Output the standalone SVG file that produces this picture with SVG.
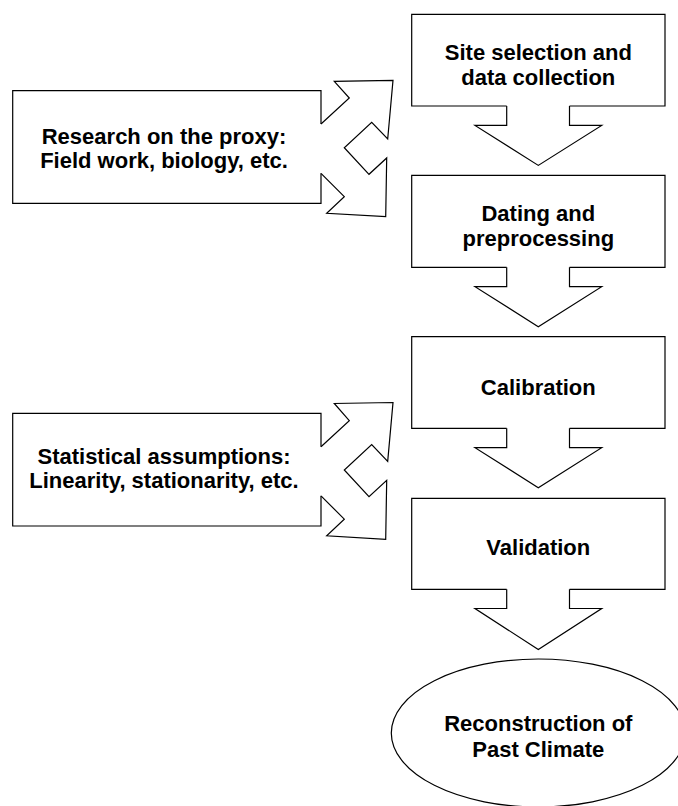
<svg xmlns="http://www.w3.org/2000/svg" width="678" height="806" viewBox="0 0 678 806">
  <style>
    .shape { fill: #ffffff; stroke: #000000; stroke-width: 1.2; stroke-linejoin: miter; }
    .conn { fill: #ffffff; stroke: #000000; stroke-width: 1.2; stroke-linejoin: miter; }
    .label { font-family: "Liberation Sans", Arial, Helvetica, sans-serif; font-weight: bold; font-size: 22px; fill: #000000; text-anchor: middle; }
  </style>
  <rect x="0" y="0" width="678" height="806" fill="#ffffff"/>

  <g id="site-selection">
    <path class="shape" d="M506.7,106 L411.7,106 L411.7,14.3 L665,14.3 L665,106 L569.5,106"/>
    <text class="label" x="538.3" y="59.5">Site selection and</text>
    <text class="label" x="538.3" y="84.5">data collection</text>
  </g>

  <g id="dating">
    <path class="shape" d="M506.7,267.3 L411.7,267.3 L411.7,175.3 L665,175.3 L665,267.3 L569.5,267.3"/>
    <text class="label" x="538.3" y="220.5">Dating and</text>
    <text class="label" x="538.3" y="245.5">preprocessing</text>
  </g>

  <g id="calibration">
    <path class="shape" d="M506.7,428.3 L411.7,428.3 L411.7,336.7 L665,336.7 L665,428.3 L569.5,428.3"/>
    <text class="label" x="538.3" y="394.5">Calibration</text>
  </g>

  <g id="validation">
    <path class="shape" d="M506.7,589.3 L411.7,589.3 L411.7,498.3 L665,498.3 L665,589.3 L569.5,589.3"/>
    <text class="label" x="538.3" y="555">Validation</text>
  </g>

  <g id="reconstruction">
    <ellipse class="shape" cx="538.3" cy="733" rx="147" ry="74"/>
    <text class="label" x="538.3" y="731">Reconstruction of</text>
    <text class="label" x="538.3" y="757">Past Climate</text>
  </g>

  <g id="research-proxy">
    <path class="shape" d="M321,124 L321,90.7 L12.7,90.7 L12.7,203.3 L321,203.3 L321,173.3"/>
    <text class="label" x="164" y="143.6">Research on the proxy:</text>
    <text class="label" x="164" y="168.3">Field work, biology, etc.</text>
  </g>

  <g id="statistical-assumptions">
    <path class="shape" d="M321,446.7 L321,413.3 L12.7,413.3 L12.7,526 L321,526 L321,495.8"/>
    <text class="label" x="164" y="463.6">Statistical assumptions:</text>
    <text class="label" x="164" y="488.3">Linearity, stationarity, etc.</text>
  </g>

  <g id="connectors">
    <path class="conn" d="M506.7,106 L506.7,125.4 L475,125.4 L538.3,165.4 L601.7,125.4 L569.5,125.4 L569.5,106"/>
    <path class="conn" d="M506.7,267.3 L506.7,286.7 L475,286.7 L538.3,326.7 L601.7,286.7 L569.5,286.7 L569.5,267.3"/>
    <path class="conn" d="M506.7,428.3 L506.7,447.7 L475,447.7 L538.3,487.7 L601.7,447.7 L569.5,447.7 L569.5,428.3"/>
    <path class="conn" d="M506.7,589.3 L506.7,608.5 L475,608.5 L538.3,649.5 L601.7,608.5 L569.5,608.5 L569.5,589.3"/>
    <path class="conn" d="M321,124 L349.3,98 L334.3,81.3 L393,80.3 L387.7,139 L371.7,122.3 L344.3,147.7 L369,174.3 L386.7,158 L385.7,216.7 L326.7,213.3 L344.3,196.7 L321,173.3"/>
    <path class="conn" d="M321,446.7 L349.3,420.7 L334.3,403.5 L393,402.5 L387.7,461.3 L371.7,444.6 L344.3,470 L369,496.6 L386.7,480.3 L385.7,539.3 L326.7,535.8 L344.3,519.2 L321,495.8"/>
  </g>
</svg>
